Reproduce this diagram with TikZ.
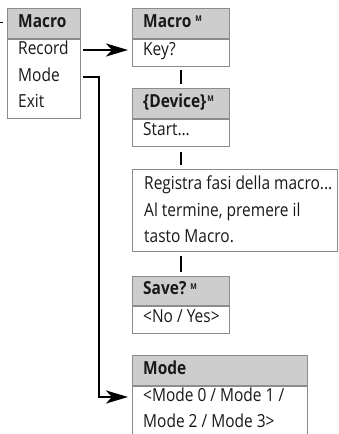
\documentclass[tikz,border=0pt]{standalone}
\usepackage{fontspec}
\setmainfont{Open Sans}[FakeStretch=0.86]
\usetikzlibrary{arrows.meta,calc}
\definecolor{bordergray}{RGB}{140,140,140}
\definecolor{hdrgray}{RGB}{205,205,205}
\definecolor{txt}{RGB}{25,25,25}
\newcommand\mainsz{\fontsize{18pt}{26.5pt}\selectfont}
\newcommand\supM{\hspace{4pt}\raisebox{5.5pt}{\fontsize{8pt}{8pt}\selectfont\bfseries M}}
\newcommand\supMtight{\hspace{1pt}\raisebox{5.5pt}{\fontsize{8pt}{8pt}\selectfont\bfseries M}}
\begin{document}
\begin{tikzpicture}[x=1pt,y=-1pt,
  hdr/.style={draw=bordergray, fill=hdrgray, anchor=north west, minimum height=30pt,
    inner sep=0pt, line width=0.9pt},
  bodybox/.style={draw=bordergray, fill=white, anchor=north west, inner sep=0pt, line width=0.9pt},
  row/.style={anchor=west, inner sep=0pt, text=txt, font=\mainsz, text height=11.5pt, text depth=3.5pt},
  title/.style={row, font=\mainsz\bfseries},
  conn/.style={line width=2.6pt, black},
  arr/.style={conn, line join=miter, -{Stealth[length=22pt,width=13pt,inset=6pt]}}
]
\useasboundingbox (0,0) rectangle (339,434);
\clip (0,0) rectangle (339,434);

% Macro menu
\node[hdr, minimum width=73pt] (menuH) at (7,8) {};
\node[bodybox, minimum width=73pt, minimum height=79pt] (menuB) at (menuH.south west) {};
\node[title] (menuT) at (18,23) {Macro};
\node[row] (rec) at (18,50) {Record};
\node[row] (mode) at (18,77) {Mode};
\node[row] (exit) at (18,103) {Exit};

% Macro M
\node[hdr, minimum width=97pt] (macH) at (132,8) {};
\node[bodybox, minimum width=97pt, minimum height=27pt] (macB) at (macH.south west) {};
\node[title] (macT) at (143,23) {Macro\supM};
\node[row] (key) at (143,51) {Key?};

% Device
\node[hdr, minimum width=97pt] (devH) at (132,88) {};
\node[bodybox, minimum width=97pt, minimum height=27pt] (devB) at (devH.south west) {};
\node[title] (devT) at (143,103) {\{Device\}\supMtight};
\node[row] (start) at (143,131) {Start…};

% Registra
\node[bodybox, minimum width=205pt, minimum height=82pt] (reg) at (132,169) {};
\node[row] (r1) at (144,185) {Registra fasi della macro...};
\node[row] (r2) at (144,212) {Al termine, premere il};
\node[row] (r3) at (144,238) {tasto Macro.};

% Save
\node[hdr, minimum width=97pt, minimum height=29pt] (saveH) at (132,276) {};
\node[bodybox, minimum width=97pt, minimum height=27pt] (saveB) at (saveH.south west) {};
\node[title] (saveT) at (143,290.5) {Save?\supM};
\node[row] (ny) at (143,318) {<No / Yes>};

% Mode
\node[hdr, minimum width=175pt] (modeH) at (132,355) {};
\node[bodybox, minimum width=175pt, minimum height=60pt] (modeB) at (modeH.south west) {};
\node[title] (modeT) at (143,370) {Mode};
\node[row] (m1) at (143,397) {<Mode 0 / Mode 1 /};
\node[row] (m2) at (143,423) {Mode 2 / Mode 3>};

% connectors
\coordinate (cut) at (0,22);
\draw[line width=1pt, shorten >=4pt] (cut) -- (cut -| menuH.west);
\draw[arr, shorten <=2pt, shorten >=4pt] (menuB.east |- rec.east) -- (macB.west |- rec.east);
\draw[arr, shorten <=2pt, shorten >=4pt] (menuB.east |- mode.east) -- ++(18,0) |- (modeB.west |- m1.west);
\draw[conn, shorten <=3pt, shorten >=4pt] (macB.south) -- (devH.north);
\draw[conn, shorten <=5pt, shorten >=4pt] (devB.south) -- (devB.south |- reg.north);
\draw[conn, shorten <=4pt, shorten >=4pt] (saveH.north |- reg.south) -- (saveH.north);
\end{tikzpicture}
\end{document}
